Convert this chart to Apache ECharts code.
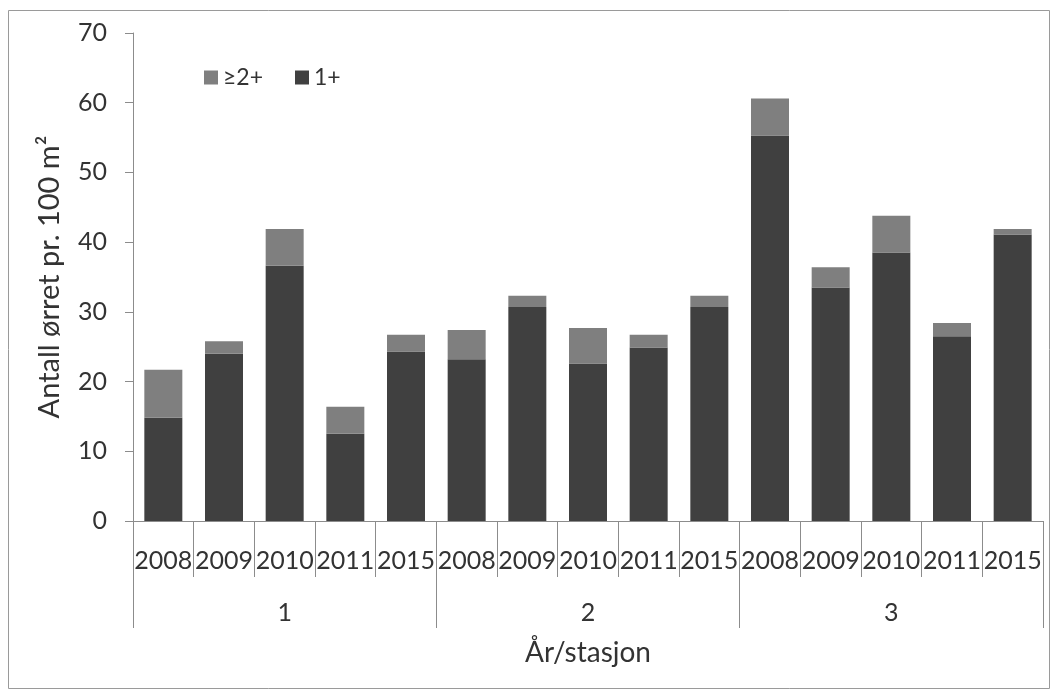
<!DOCTYPE html>
<html>
<head>
<meta charset="utf-8">
<script src="https://cdn.jsdelivr.net/npm/echarts@6/dist/echarts.min.js"></script>
<style>
html,body{margin:0;padding:0;background:#fff;}
#chart{width:1057px;height:697px;}
</style>
</head>
<body>
<div id="chart"></div>
<script>
var years = ['2008','2009','2010','2011','2015','2008','2009','2010','2011','2015','2008','2009','2010','2011','2015'];
var stations = ['1','2','3'];
var oneplus = [14.8,24.0,36.6,12.5,24.3, 23.2,30.7,22.6,24.9,30.7, 55.3,33.5,38.5,26.5,41.1];
var twoplus = [6.9,1.8,5.3,3.9,2.4, 4.2,1.6,5.1,1.8,1.6, 5.3,2.9,5.3,1.9,0.8];
var yTicks = [0,10,20,30,40,50,60,70];

var FONT = 'Lato';
var TXT = '#333333';
var AX = '#8c8c8c';

var chart = echarts.init(document.getElementById('chart'));
chart.setOption({
  animation: false,
  backgroundColor: '#fff',
  textStyle: {fontFamily: FONT},
  grid: {left: 133, right: 14, top: 33, bottom: 176, containLabel: false},
  legend: {
    data: ['≥2+', '1+'],
    left: 199, top: 61,
    itemWidth: 14, itemHeight: 14, itemGap: 32,
    icon: 'rect',
    textStyle: {fontFamily: FONT, fontSize: 23, color: TXT}
  },
  xAxis: [{
    type: 'category',
    data: years,
    position: 'bottom',
    axisLine: {show: true, lineStyle: {color: AX, width: 1}},
    axisTick: {show: true, interval: 0, length: 56, lineStyle: {color: AX}},
    axisLabel: {interval: 0, margin: 28, lineHeight: 24, fontSize: 25, color: TXT, fontFamily: FONT},
    name: 'År/stasjon',
    nameLocation: 'middle',
    nameGap: 118,
    nameTextStyle: {fontSize: 28, color: TXT, fontFamily: FONT}
  }, {
    type: 'category',
    data: stations,
    position: 'bottom',
    axisLine: {show: false},
    axisTick: {show: true, interval: 0, length: 107, lineStyle: {color: AX}},
    axisLabel: {interval: 0, margin: 80, lineHeight: 24, fontSize: 25, color: TXT, fontFamily: FONT}
  }],
  yAxis: {
    type: 'value',
    min: yTicks[0], max: yTicks[yTicks.length - 1], interval: 10,
    axisLine: {show: true, lineStyle: {color: AX}},
    axisTick: {show: true, length: 8, lineStyle: {color: AX}},
    splitLine: {show: false},
    axisLabel: {margin: 26, fontSize: 25, color: TXT, fontFamily: FONT},
    name: 'Antall ørret pr. 100 m²',
    nameLocation: 'middle',
    nameGap: 69,
    nameTextStyle: {fontSize: 29, color: TXT, fontFamily: FONT}
  },
  series: [{
    name: '1+',
    type: 'bar',
    stack: 'a',
    xAxisIndex: 0,
    barWidth: 38,
    itemStyle: {color: '#404040'},
    data: oneplus
  }, {
    name: '≥2+',
    type: 'bar',
    stack: 'a',
    xAxisIndex: 0,
    barWidth: 38,
    itemStyle: {color: '#7f7f7f'},
    data: twoplus
  }],
  graphic: [{
    type: 'rect',
    shape: {x: 8.5, y: 10.5, width: 1041, height: 678},
    style: {fill: 'none', stroke: '#9a9a9a', lineWidth: 1},
    silent: true
  }]
});
</script>
</body>
</html>
